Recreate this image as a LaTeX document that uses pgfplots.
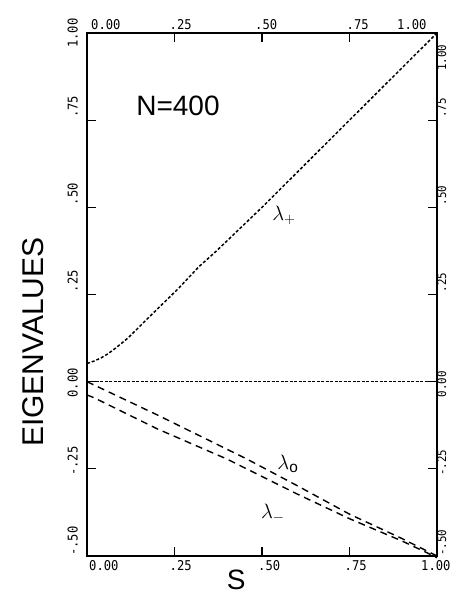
\documentclass[border=0pt]{standalone}
\usepackage{pgfplots}
\pgfplotsset{compat=1.18}
\usepackage{fontspec}
\setmainfont{Liberation Sans}
\newfontfamily\tickfont[FakeStretch=0.9]{DejaVu Sans Mono}
\newcommand\tk[2]{\kern#1\relax#2}
\pgfplotsset{myaxis/.style={
  scale only axis, width=350pt, height=523pt,
  xmin=0, xmax=1, ymin=-0.5, ymax=1,
  xtick={0,0.25,0.5,0.75,1},
  ytick={-0.5,-0.25,0,0.25,0.5,0.75,1},
  tick align=inside, major tick length=9pt,
  axis line style={line width=1.3pt},
  every tick/.style={line width=1.1pt, black},
  at={(0pt,0pt)}, anchor=south west, clip=false,
  tick label style={font=\fontsize{13.5}{13.5}\tickfont, inner sep=0pt},
}}
\begin{document}
\begin{tikzpicture}
\useasboundingbox (-87pt,-39pt) rectangle (363pt,556pt);
\begin{axis}[myaxis,
  xticklabel pos=lower, yticklabel pos=left,
  xticklabels={\tk{18pt}{0.00},\tk{11pt}{.25},\tk{12pt}{.50},\tk{11pt}{.75},\tk{0pt}{1.00}},
  xticklabel style={xshift=-16pt, yshift=-4pt, anchor=north west},
  yticklabels={\tk{16pt}{-.50},\tk{9pt}{-.25},\tk{0pt}{0.00},\tk{18pt}{.25},\tk{18pt}{.50},\tk{18pt}{.75},\tk{1pt}{1.00}},
  yticklabel style={xshift=-9pt, yshift=-16pt, rotate=90, anchor=south west},
]
% lambda_+
\addplot[black, line width=1.5pt, dash pattern=on 3pt off 2pt] coordinates {
(0,0.052) (0.02,0.059) (0.04,0.068) (0.06,0.080) (0.08,0.095) (0.10,0.111) (0.12,0.128)
(0.17,0.178) (0.26,0.266) (0.32,0.330) (0.37,0.375) (0.50,0.500) (0.60,0.600)
(0.72,0.720) (0.85,0.850) (1.0,1.0)};
% zero line
\addplot[black, line width=1.4pt, dash pattern=on 3pt off 1.5pt] coordinates {(0,0) (1,0)};
% lambda_0
\addplot[black, line width=1.4pt, dash pattern=on 7pt off 5pt] coordinates {
(0,0) (0.2,-0.095) (0.457,-0.222) (0.6,-0.298) (0.75,-0.380) (0.9,-0.450) (0.96,-0.480) (1.0,-0.5)};
% lambda_-
\addplot[black, line width=1.4pt, dash pattern=on 7pt off 5pt] coordinates {
(0,-0.038) (0.02,-0.046) (0.2,-0.135) (0.40,-0.222) (0.466,-0.255) (0.6,-0.322) (0.75,-0.393) (0.9,-0.457) (0.97,-0.490) (1.0,-0.505)};
\node[font=\fontsize{28}{28}\selectfont] at (axis cs:0.26,0.79) {N=400};
\node[font=\fontsize{22}{22}\selectfont] at (axis cs:0.563,0.476) {$\lambda_+$};
\node[font=\fontsize{22}{22}\selectfont] at (axis cs:0.574,-0.235) {$\lambda_{\mathrm{o}}$};
\node[font=\fontsize{22}{22}\selectfont] at (axis cs:0.531,-0.378) {$\lambda_-$};
\node[font=\fontsize{30}{30}\selectfont, rotate=90, inner sep=0pt] at (rel axis cs:-0.154,0.409) {EIGENVALUES};
\node[font=\fontsize{28}{28}\selectfont, inner sep=0pt] at (rel axis cs:0.426,-0.045) {S};
\end{axis}
\begin{axis}[myaxis,
  xticklabel pos=upper, yticklabel pos=right,
  xticklabels={\tk{44pt}{0.00},\tk{35pt}{.25},\tk{33pt}{.50},\tk{37pt}{.75},\tk{0pt}{1.00}},
  xticklabel style={xshift=-40pt, yshift=3pt, anchor=south west},
  yticklabels={\tk{38pt}{-.50},\tk{31pt}{-.25},\tk{22pt}{0.00},\tk{40pt}{.25},\tk{40pt}{.50},\tk{40pt}{.75},\tk{0pt}{1.00}},
  yticklabel style={font=\fontsize{12}{12}\tickfont, xshift=0pt, yshift=-38pt, rotate=90, anchor=north west},
]
\end{axis}
\end{tikzpicture}
\end{document}
